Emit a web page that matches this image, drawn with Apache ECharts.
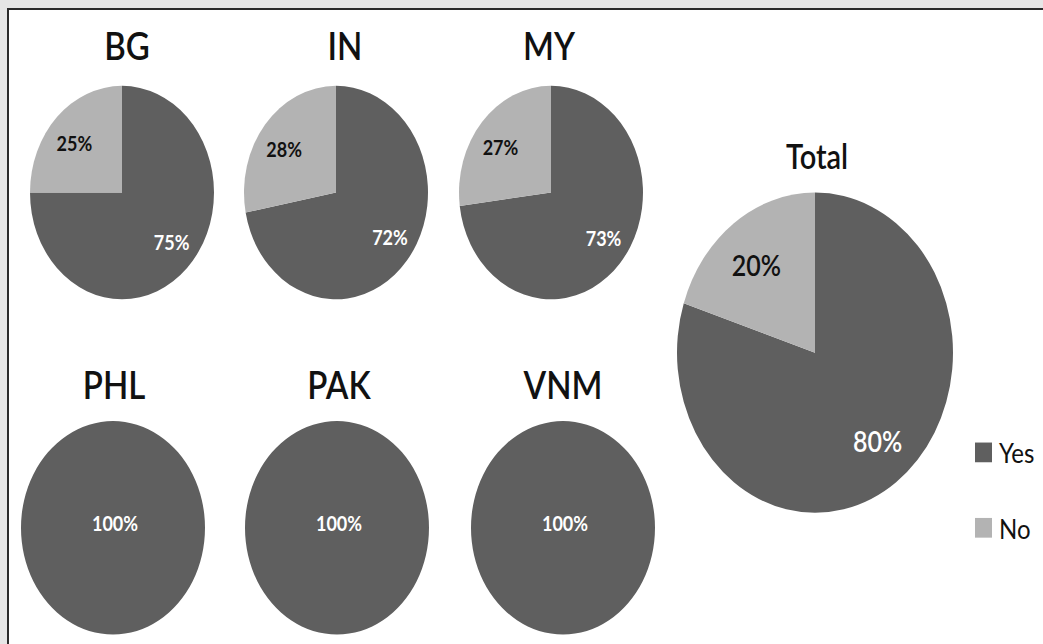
<!DOCTYPE html>
<html>
<head>
<meta charset="utf-8">
<script src="https://cdn.jsdelivr.net/npm/echarts@6/dist/echarts.min.js"></script>
<style>
  html, body { margin: 0; padding: 0; background: #e6e6e6; }
  body { width: 1043px; height: 644px; overflow: hidden; position: relative; }
  #frame {
    position: absolute; left: 7px; top: 8px; width: 1100px; height: 700px;
    background: #fff; border: 2px solid #2b2b2b;
  }
  /* the source picture is stretched vertically, so the whole chart is too */
  #pies {
    position: absolute; left: 0; top: 0; width: 1043px; height: 555px;
    transform: scaleY(1.16); transform-origin: 0 0;
  }
</style>
</head>
<body>
<div id="frame"></div>
<div id="pies"></div>
<script>
const countries = ['BG', 'IN', 'MY', 'PHL', 'PAK', 'VNM', 'Total'];
const yesPct = [75, 72, 73, 100, 100, 100, 80];
const noPct = [25, 28, 27, 0, 0, 0, 20];
const legendNames = ['Yes', 'No'];

// layout of each pie (chart px, before the vertical stretch)
const pieCenters = [[122, 166], [336, 166], [551, 166], [113, 455], [337, 455], [563, 455], [815, 304]];
const pieRadius = [92, 92, 92, 92, 92, 92, 138];
const titleX = [127, 345, 549, 114, 339, 563, 817];
const titleTop = [23, 23, 23, 315, 315, 315, 120];

const dark = '#5f5f5f';
const light = '#b3b3b3';
const font = 'Lato, "Open Sans", sans-serif';

const chart = echarts.init(document.getElementById('pies'), null, { renderer: 'svg' });

const titles = countries.map((c, i) => ({
  text: c,
  left: titleX[i],
  top: titleTop[i],
  textAlign: 'center',
  padding: 0,
  textStyle: {
    fontFamily: font,
    fontSize: i === 6 ? 29 : 33,
    fontWeight: 600,
    color: '#111',
    lineHeight: i === 6 ? 29 : 33
  }
}));

const series = [];
countries.forEach((c, i) => {
  const big = i === 6;
  const full = noPct[i] === 0;
  const fs = big ? 25 : 18;
  // the slices
  series.push({
    type: 'pie',
    name: c,
    center: pieCenters[i],
    radius: [0, pieRadius[i]],
    startAngle: 90,
    silent: true,
    animation: false,
    itemStyle: { borderWidth: 0 },
    emphasis: { disabled: true },
    labelLine: { show: false },
    label: {
      show: full,
      position: 'center',
      formatter: '{c}%',
      color: '#fff',
      fontFamily: font,
      fontWeight: 'bold',
      fontSize: fs,
      offset: [2, -4]
    },
    data: [
      { name: legendNames[0], value: yesPct[i], itemStyle: { color: dark } },
      { name: legendNames[1], value: noPct[i], itemStyle: { color: light }, label: { show: false } }
    ]
  });
  // see-through ring that only carries the labels further out from the centre
  if (!full) {
    series.push({
      type: 'pie',
      name: c + ' labels',
      center: pieCenters[i],
      radius: [pieRadius[i] * 0.4, pieRadius[i]],
      startAngle: 90,
      silent: true,
      animation: false,
      itemStyle: { color: 'rgba(0,0,0,0)', borderWidth: 0 },
      emphasis: { disabled: true },
      labelLine: { show: false },
      label: {
        show: true,
        position: 'inside',
        formatter: '{c}%',
        fontFamily: font,
        fontWeight: big ? 600 : 'bold',
        fontSize: fs
      },
      data: [
        { name: legendNames[0], value: yesPct[i], label: { color: '#fff', offset: [big ? 4 : 2, -5] } },
        { name: legendNames[1], value: noPct[i], label: { color: '#111', offset: [0, 5] } }
      ]
    });
  }
});

chart.setOption({
  backgroundColor: 'transparent',
  title: titles,
  legend: {
    data: legendNames,
    orient: 'vertical',
    left: 975,
    top: 378,
    padding: 0,
    itemWidth: 17,
    itemHeight: 17,
    itemGap: 41,
    icon: 'rect',
    selectedMode: false,
    textStyle: { fontFamily: font, fontSize: 24, color: '#111', lineHeight: 24, padding: [0, 0, 0, 2] }
  },
  series: series
});
</script>
</body>
</html>
